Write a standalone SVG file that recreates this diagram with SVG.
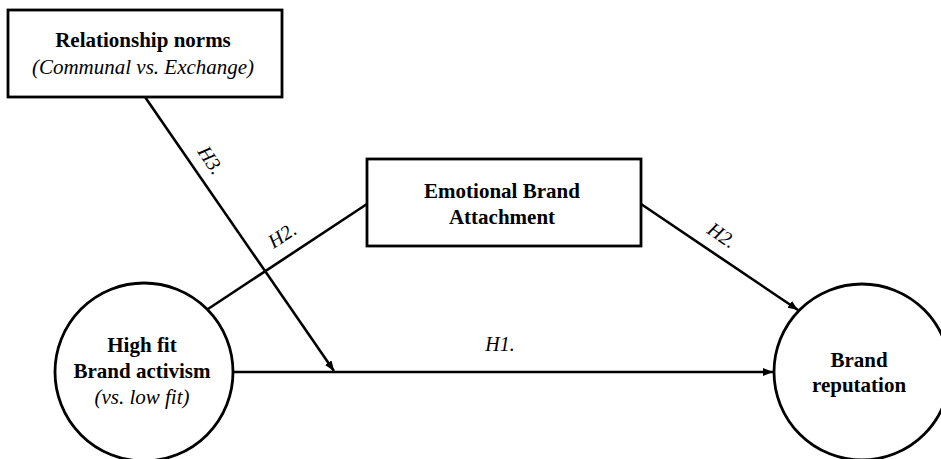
<svg xmlns="http://www.w3.org/2000/svg" width="941" height="459" viewBox="0 0 941 459">
<style>
.box{fill:#fff;stroke:#000;stroke-width:2.8}
.edge{fill:none;stroke:#000;stroke-width:2.6}
</style>
<defs>
<marker id="arr" viewBox="0 0 10 10" refX="10" refY="5" markerWidth="10" markerHeight="10" markerUnits="userSpaceOnUse" orient="auto">
<path d="M0,1 L10,5 L0,9 z" fill="#000"/>
</marker>
</defs>
<rect width="941" height="459" fill="#fff"/>
<g id="connectors">
<line class="edge" x1="233" y1="372" x2="773" y2="372" marker-end="url(#arr)"/>
<line class="edge" x1="145" y1="97" x2="334" y2="371" marker-end="url(#arr)"/>
<line class="edge" x1="208" y1="309" x2="367" y2="204"/>
<line class="edge" x1="641" y1="204" x2="798" y2="310" marker-end="url(#arr)"/>
<g font-family="Liberation Serif, serif" font-size="20" font-style="italic" text-anchor="middle" fill="#000">
<text x="500" y="351">H1.</text>
<text transform="translate(211,160) rotate(56)" y="7">H3.</text>
<text transform="translate(282,235) rotate(-33)" y="7">H2.</text>
<text transform="translate(722,235) rotate(34)" y="7">H2.</text>
</g>
</g>
<g id="relationship-norms" font-family="Liberation Serif, serif" font-size="21" text-anchor="middle" fill="#000">
<rect class="box" x="8" y="10" width="274" height="87"/>
<text x="143" y="47" font-weight="bold">Relationship norms</text>
<text x="143" y="74" font-style="italic">(Communal vs. Exchange)</text>
</g>
<g id="emotional-brand-attachment" font-family="Liberation Serif, serif" font-size="21" text-anchor="middle" fill="#000" font-weight="bold">
<rect class="box" x="367" y="159" width="274" height="87"/>
<text x="502" y="198">Emotional Brand</text>
<text x="502" y="224">Attachment</text>
</g>
<g id="brand-activism" font-family="Liberation Serif, serif" font-size="21" text-anchor="middle" fill="#000">
<circle class="box" cx="144" cy="372" r="89"/>
<text x="142" y="352" font-weight="bold">High fit</text>
<text x="142" y="378" font-weight="bold">Brand activism</text>
<text x="142" y="404" font-style="italic">(vs. low fit)</text>
</g>
<g id="brand-reputation" font-family="Liberation Serif, serif" font-size="21" text-anchor="middle" fill="#000" font-weight="bold">
<circle class="box" cx="862" cy="372" r="88"/>
<text x="859" y="367">Brand</text>
<text x="859" y="392">reputation</text>
</g>
</svg>
